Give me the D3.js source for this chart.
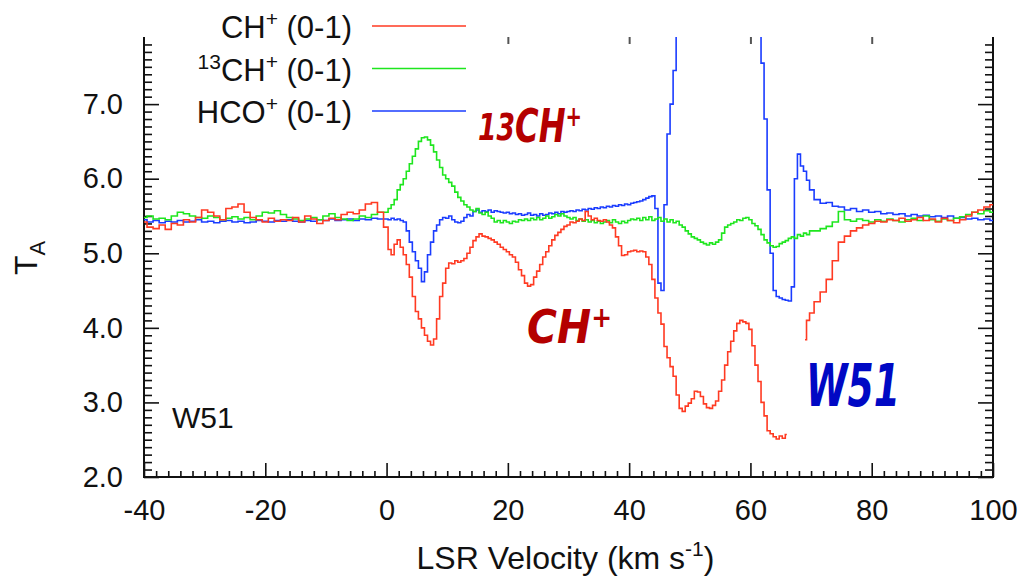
<!DOCTYPE html>
<html>
<head>
<meta charset="utf-8">
<script src="https://cdn.jsdelivr.net/npm/d3@7"></script>
<style>
  body { margin: 0; background: #fff; }
  svg { display: block; font-family: "Liberation Sans", Arial, sans-serif; }
  .tick text { font-size: 29px; fill: #111; }
</style>
</head>
<body>
<svg width="1028" height="578"></svg>
<script>
// channel grid (km/s): 1 km/s below 0, 0.5 km/s from 0 to 70, 1 km/s above 70
const velocity = [].concat(d3.range(-40, 0, 1), d3.range(0, 70.25, 0.5), d3.range(71, 100.5, 1));

// CH+ (0-1)
const chPlus = [
  5.42,5.35,5.33,5.38,5.32,5.40,5.38,5.45,5.42,5.48, 5.58,5.55,5.50,5.45,5.60,5.62,5.66,5.55,5.48,5.45,
  5.42,5.47,5.43,5.45,5.44,5.48,5.42,5.50,5.46,5.40, 5.44,5.47,5.45,5.52,5.55,5.53,5.58,5.66,5.68,5.55,
  5.35,5.05,4.98,5.12,5.18,5.08,4.98,4.85,4.68,4.42,
  4.22,4.12,4.00,3.90,3.82,3.77,3.85,4.12,4.42,4.60,
  4.80,4.87,4.86,4.90,4.88,4.90,4.93,5.00,5.08,5.17,
  5.22,5.26,5.23,5.22,5.20,5.18,5.15,5.12,5.08,5.05,
  5.02,4.98,4.95,4.88,4.78,4.70,4.60,4.56,4.58,4.68,
  4.76,4.85,4.95,5.02,5.10,5.18,5.24,5.28,5.32,5.36,
  5.38,5.42,5.41,5.43,5.46,5.44,5.56,5.50,5.45,5.47,
  5.44,5.43,5.45,5.42,5.38,5.34,5.22,5.10,4.97,4.98,
  5.02,5.03,5.04,5.02,5.03,5.02,4.95,4.85,4.65,4.40,
  4.20,4.05,3.75,3.60,3.48,3.35,3.10,2.92,2.88,2.95,
  2.99,3.05,3.15,3.14,3.08,2.98,2.93,2.92,2.96,3.02,
  3.15,3.30,3.50,3.68,3.82,3.96,4.06,4.10,4.08,4.06,
  3.98,3.76,3.50,3.28,3.00,2.82,2.62,2.58,2.54,2.51,
  2.55,2.52,2.57,null,null,null,null,null,3.84,4.10,
  4.20,
  4.35,4.48,4.65,4.90,5.15,5.23,5.30,5.34,5.38,5.40, 5.43,5.42,5.45,5.44,5.47,5.43,5.45,5.48,5.44,5.46,
  5.42,5.47,5.44,5.41,5.45,5.50,5.55,5.58,5.62,5.65
];

// 13CH+ (0-1)
const ch13Plus = [
  5.48,5.50,5.46,5.47,5.45,5.50,5.55,5.53,5.50,5.48, 5.47,5.50,5.48,5.45,5.47,5.49,5.46,5.48,5.45,5.50,
  5.55,5.54,5.57,5.52,5.48,5.46,5.44,5.46,5.48,5.45, 5.50,5.53,5.48,5.46,5.44,5.46,5.50,5.48,5.52,5.55,
  5.55,5.60,5.65,5.72,5.85,5.92,6.00,6.10,6.20,6.30,
  6.40,6.50,6.55,6.56,6.52,6.45,6.36,6.25,6.15,6.05,
  6.00,5.95,5.90,5.82,5.75,5.70,5.65,5.62,5.58,5.56,
  5.60,5.54,5.52,5.55,5.50,5.47,5.42,5.44,5.41,5.44,
  5.42,5.40,5.43,5.42,5.45,5.44,5.46,5.44,5.47,5.45,
  5.48,5.45,5.47,5.50,5.47,5.49,5.52,5.50,5.53,5.50,
  5.48,5.46,5.48,5.44,5.46,5.43,5.45,5.42,5.44,5.41,
  5.43,5.40,5.42,5.44,5.41,5.45,5.42,5.40,5.43,5.41,
  5.44,5.46,5.45,5.47,5.44,5.48,5.45,5.49,5.44,5.46,
  5.48,5.43,5.46,5.42,5.45,5.41,5.43,5.38,5.35,5.30,
  5.26,5.22,5.20,5.18,5.15,5.13,5.11,5.14,5.12,5.15,
  5.18,5.27,5.35,5.38,5.40,5.42,5.45,5.44,5.47,5.48,
  5.45,5.40,5.37,5.32,5.25,5.18,5.14,5.10,5.08,5.09,
  5.13,5.15,5.17,5.20,5.22,5.20,5.25,5.23,5.27,5.25,
  5.30,
  5.30,5.33,5.36,5.42,5.56,5.45,5.43,5.46,5.44,5.42, 5.45,5.43,5.46,5.44,5.42,5.45,5.47,5.44,5.50,5.45,
  5.43,5.46,5.44,5.47,5.49,5.52,5.55,5.53,5.57,5.55
];

// HCO+ (0-1)
const hcoPlus = [
  5.45,5.42,5.44,5.41,5.43,5.42,5.44,5.42,5.43,5.45, 5.42,5.43,5.41,5.43,5.44,5.42,5.43,5.41,5.42,5.44,
  5.43,5.42,5.44,5.43,5.45,5.43,5.42,5.44,5.43,5.45, 5.44,5.46,5.44,5.45,5.46,5.44,5.46,5.45,5.47,5.46,
  5.46,5.45,5.47,5.45,5.46,5.44,5.42,5.30,5.15,5.02,
  4.90,4.80,4.62,4.75,4.98,5.15,5.30,5.38,5.45,5.48,
  5.47,5.50,5.45,5.42,5.41,5.43,5.48,5.52,5.50,5.56,
  5.58,5.55,5.57,5.56,5.58,5.55,5.57,5.56,5.55,5.54,
  5.55,5.53,5.54,5.52,5.53,5.51,5.52,5.54,5.51,5.52,
  5.50,5.53,5.51,5.52,5.54,5.53,5.55,5.53,5.56,5.55,
  5.56,5.57,5.56,5.58,5.57,5.59,5.58,5.60,5.59,5.61,
  5.60,5.62,5.61,5.63,5.62,5.64,5.63,5.65,5.64,5.66,
  5.65,5.67,5.68,5.69,5.70,5.72,5.74,5.76,5.77,5.60,
  4.60,4.50,5.65,6.60,7.00,7.45,7.95,9.00,9.60,10.2,
  10.6,10.9,11.1,11.2,11.3,11.2,11.1,11.0,10.9,10.8,
  10.6,10.5,10.3,10.1,9.90,9.60,9.30,9.00,8.80,8.60,
  8.40,8.20,8.05,7.95,7.55,6.80,5.85,5.00,4.50,4.42,
  4.40,4.38,4.37,4.36,4.55,6.00,6.33,6.17,6.10,5.98,
  5.85,
  5.72,5.67,5.68,5.63,5.62,5.58,5.60,5.56,5.58,5.55, 5.56,5.53,5.54,5.52,5.53,5.50,5.52,5.50,5.51,5.49,
  5.50,5.48,5.50,5.47,5.48,5.46,5.47,5.45,5.46,5.44
];

const xTicks = [-40, -20, 0, 20, 40, 60, 80, 100];
const yTicks = [2, 3, 4, 5, 6, 7];

const series = [
  {name: 'CH', sup: '+', pre: '', values: chPlus, color: '#ff3a22'},
  {name: 'CH', sup: '+', pre: '13', values: ch13Plus, color: '#1ee61e'},
  {name: 'HCO', sup: '+', pre: '', values: hcoPlus, color: '#1a3cff'}
];

const svg = d3.select('svg');
const width = +svg.attr('width');
const height = +svg.attr('height');
const margin = {top: 37, right: 35, bottom: 101, left: 144};
const innerWidth = width - margin.left - margin.right;
const innerHeight = height - margin.top - margin.bottom;

const xScale = d3.scaleLinear().domain([-40, 100]).range([0, innerWidth]);
const yScale = d3.scaleLinear().domain([2, 7.9]).range([innerHeight, 0]);

const g = svg.append('g').attr('transform', `translate(${margin.left},${margin.top})`);

// minor ticks
const xMinor = d3.range(-40, 100.1, 2).filter(v => v % 20 !== 0);
const yMinor = d3.range(20, 79, 1).map(v => v / 10).filter(v => v % 1 !== 0);

const styleAxis = sel => {
  sel.select('.domain').remove();
  sel.selectAll('.tick line').attr('stroke', '#111').attr('stroke-width', 1.6);
};

g.append('g').call(d3.axisLeft(yScale).tickValues(yMinor).tickSize(-8).tickFormat('')).call(styleAxis);
g.append('g').call(d3.axisLeft(yScale).tickValues(yTicks).tickSize(-15).tickPadding(21)
    .tickFormat(d => d.toFixed(1))).call(styleAxis);

g.append('g').attr('transform', `translate(${innerWidth},0)`)
  .call(d3.axisRight(yScale).tickValues(yMinor).tickSize(-8).tickFormat('')).call(styleAxis);
g.append('g').attr('transform', `translate(${innerWidth},0)`)
  .call(d3.axisRight(yScale).tickValues(yTicks).tickSize(-15).tickFormat('')).call(styleAxis);

g.append('g').attr('transform', `translate(0,${innerHeight})`)
  .call(d3.axisBottom(xScale).tickValues(xMinor).tickSize(-6).tickFormat('')).call(styleAxis);
g.append('g').attr('transform', `translate(0,${innerHeight})`)
  .call(d3.axisBottom(xScale).tickValues(xTicks).tickSize(-14).tickPadding(22)
    .tickFormat(d => String(d))).call(styleAxis);

// top edge is cut off, only the major ticks show
g.append('g')
  .call(d3.axisTop(xScale).tickValues(xTicks.slice(1, -1)).tickSize(-7).tickFormat(''))
  .call(sel => {
    sel.select('.domain').remove();
    sel.selectAll('.tick line').attr('stroke', '#555').attr('stroke-width', 2);
  });

// frame: left, bottom, right
g.append('path')
  .attr('d', `M0,0V${innerHeight}H${innerWidth}V0`)
  .attr('fill', 'none').attr('stroke', '#111').attr('stroke-width', 2);

g.append('clipPath').attr('id', 'plot-clip')
  .append('rect').attr('width', innerWidth).attr('height', innerHeight);

const line = d3.line()
  .defined(d => d[1] !== null)
  .x(d => xScale(d[0]))
  .y(d => yScale(d[1]))
  .curve(d3.curveStep);

const plot = g.append('g').attr('clip-path', 'url(#plot-clip)');
series.slice().reverse().forEach(s => {
  plot.append('path')
    .datum(velocity.map((v, i) => [v, s.values[i]]))
    .attr('fill', 'none')
    .attr('stroke', s.color)
    .attr('stroke-width', 1.6)
    .attr('d', line);
});

// legend (opaque box hides the top-left ticks)
svg.append('rect').attr('x', 165).attr('y', 0).attr('width', 305).attr('height', 128).attr('fill', '#fff');
const legend = svg.append('g');
series.forEach((s, i) => {
  const ly = 26 + i * 42.5;
  legend.append('line')
    .attr('x1', 372).attr('x2', 466).attr('y1', ly).attr('y2', ly)
    .attr('stroke', s.color).attr('stroke-width', 1.6);
  const t = legend.append('text')
    .attr('x', 352).attr('y', ly + 12)
    .attr('text-anchor', 'end')
    .attr('font-size', 31)
    .attr('fill', '#111');
  if (s.pre) t.append('tspan').attr('font-size', 21).attr('dy', -12).text(s.pre);
  t.append('tspan').attr('dy', s.pre ? 12 : 0).text(s.name);
  t.append('tspan').attr('font-size', 21).attr('dy', -12).text(s.sup);
  t.append('tspan').attr('dy', 12).text(' (0-1)');
});

// axis titles
svg.append('text')
  .attr('transform', 'translate(37,258) rotate(-90)')
  .attr('text-anchor', 'middle')
  .attr('font-size', 32)
  .attr('fill', '#111')
  .call(t => {
    t.append('tspan').text('T');
    t.append('tspan').attr('font-size', 22).attr('dy', 8).text('A');
  });

svg.append('text')
  .attr('x', margin.left + innerWidth / 2 - 3).attr('y', 569)
  .attr('text-anchor', 'middle')
  .attr('font-size', 32)
  .attr('fill', '#111')
  .call(t => {
    t.append('tspan').text('LSR Velocity (km s');
    t.append('tspan').attr('font-size', 21).attr('dy', -13).text('-1');
    t.append('tspan').attr('dy', 13).text(')');
  });

// source label inside the frame
svg.append('text').attr('x', 172).attr('y', 428)
  .attr('font-size', 30).attr('fill', '#111').text('W51');

// overlaid hand annotations
const note = (x, y, len, color, parts) => {
  const t = svg.append('text')
    .attr('x', x).attr('y', y)
    .attr('fill', color)
    .attr('font-family', '"DejaVu Sans", sans-serif')
    .attr('font-weight', 'bold')
    .attr('font-style', 'italic')
    .attr('textLength', len)
    .attr('lengthAdjust', 'spacingAndGlyphs');
  parts.forEach(p => t.append('tspan').attr('font-size', p[1]).attr('dy', p[2]).text(p[0]));
};
note(478, 142, 104, '#b40000', [['13', 38, -2], ['CH', 46, 2], ['+', 28, -16]]);
note(527, 343, 85, '#b40000', [['CH', 46, 0], ['+', 28, -16]]);
note(806, 406, 94, '#0008c4', [['W51', 58, 0]]);
</script>
</body>
</html>
